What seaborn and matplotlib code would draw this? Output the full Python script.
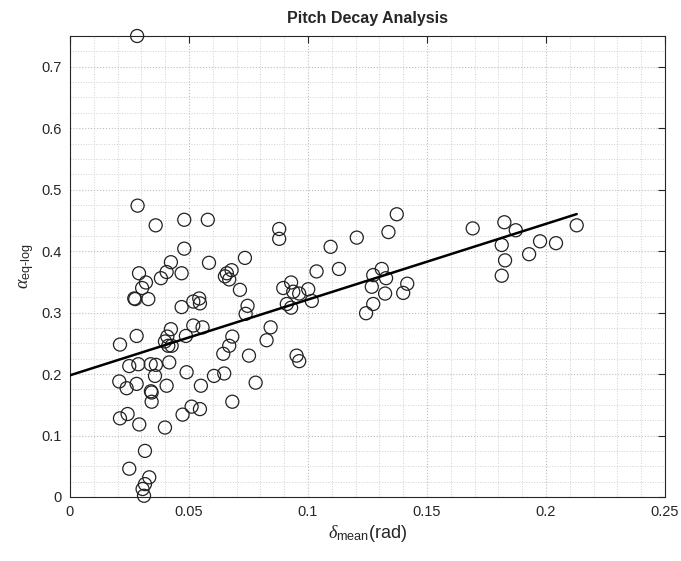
import numpy as np
import pandas as pd
import matplotlib
matplotlib.use("Agg")
import matplotlib.pyplot as plt
import seaborn as sns
from matplotlib.ticker import MultipleLocator

delta_mean = [
    0.0282, 0.0284, 0.0360, 0.0480, 0.0579, 0.0480, 0.0584, 0.0424, 0.0290, 0.0406,
    0.0382, 0.0469, 0.0319, 0.0303, 0.0270, 0.0274, 0.0329, 0.0469, 0.0518, 0.0543,
    0.0546, 0.0659, 0.0679, 0.0669, 0.0651, 0.0735, 0.0714, 0.0746, 0.0738, 0.0280,
    0.0424, 0.0409, 0.0399, 0.0413, 0.0427, 0.0487, 0.0518, 0.0557, 0.0682, 0.0669,
    0.0644, 0.0210, 0.0249, 0.0287, 0.0339, 0.0361, 0.0417, 0.0490, 0.0357, 0.0207,
    0.0238, 0.0280, 0.0340, 0.0343, 0.0343, 0.0406, 0.0550, 0.0605, 0.0648, 0.0752,
    0.0780, 0.0682, 0.0473, 0.0511, 0.0546, 0.0399, 0.0210, 0.0242, 0.0291, 0.0315,
    0.0249, 0.0333, 0.0315, 0.0305, 0.0311, 0.0879, 0.0879, 0.1095, 0.1205, 0.1338,
    0.1373, 0.1036, 0.1130, 0.0896, 0.0929, 0.0938, 0.0963, 0.1001, 0.1016, 0.0911,
    0.0929, 0.0843, 0.0826, 0.0952, 0.0963, 0.1274, 0.1310, 0.1328, 0.1268, 0.1324,
    0.1400, 0.1417, 0.1274, 0.1244, 0.1692, 0.1825, 0.1873, 0.1814, 0.1828, 0.1814,
    0.1929, 0.1975, 0.2042, 0.2129,
]
alpha_eq_log = [
    0.750, 0.474, 0.442, 0.451, 0.451, 0.404, 0.381, 0.382, 0.364, 0.366,
    0.356, 0.364, 0.349, 0.340, 0.323, 0.322, 0.322, 0.309, 0.318, 0.323,
    0.315, 0.364, 0.369, 0.354, 0.359, 0.389, 0.337, 0.311, 0.298, 0.262,
    0.273, 0.261, 0.253, 0.246, 0.246, 0.262, 0.279, 0.276, 0.261, 0.246,
    0.233, 0.248, 0.213, 0.216, 0.216, 0.215, 0.219, 0.203, 0.197, 0.188,
    0.177, 0.184, 0.172, 0.170, 0.155, 0.181, 0.181, 0.197, 0.201, 0.230,
    0.186, 0.155, 0.134, 0.147, 0.143, 0.113, 0.128, 0.135, 0.118, 0.075,
    0.046, 0.032, 0.021, 0.013, 0.002, 0.436, 0.420, 0.407, 0.422, 0.431,
    0.460, 0.367, 0.371, 0.340, 0.349, 0.334, 0.331, 0.338, 0.319, 0.314,
    0.308, 0.276, 0.255, 0.230, 0.221, 0.361, 0.371, 0.356, 0.342, 0.331,
    0.332, 0.347, 0.314, 0.299, 0.437, 0.447, 0.434, 0.410, 0.385, 0.360,
    0.395, 0.416, 0.413, 0.442,
]
fit_intercept = 0.198
fit_slope = 1.232

x_ticks = [0, 0.05, 0.1, 0.15, 0.2, 0.25]
x_tick_labels = ["0", "0.05", "0.1", "0.15", "0.2", "0.25"]
y_ticks = [0, 0.1, 0.2, 0.3, 0.4, 0.5, 0.6, 0.7]
y_tick_labels = ["0", "0.1", "0.2", "0.3", "0.4", "0.5", "0.6", "0.7"]

sns.set_style("white")
plt.rcParams["font.family"] = ["Liberation Sans", "DejaVu Sans"]
plt.rcParams["mathtext.fontset"] = "custom"
plt.rcParams["mathtext.rm"] = "Liberation Sans"
plt.rcParams["mathtext.it"] = "Liberation Serif:italic"

df = pd.DataFrame({"x": delta_mean, "y": alpha_eq_log})

fig = plt.figure(figsize=(6.81, 5.61), dpi=100)
ax = fig.add_axes([70 / 681, 1 - 497 / 561, 595 / 681, 461 / 561])

ax.set_xlim(0, 0.25)
ax.set_ylim(0, 0.75)
ax.xaxis.set_minor_locator(MultipleLocator(0.01))
ax.yaxis.set_minor_locator(MultipleLocator(0.025))
ax.grid(which="major", color="#bdbdbd", linestyle=":", linewidth=0.8)
ax.grid(which="minor", color="#d0d0d0", linestyle=":", linewidth=0.7)
ax.set_axisbelow(True)

sns.scatterplot(data=df, x="x", y="y", ax=ax, marker="o", s=88,
                facecolor="none", edgecolor="#222222", linewidth=0.9,
                clip_on=False, zorder=3, legend=False)

xf = np.array([0.0, max(delta_mean)])
sns.lineplot(x=xf, y=fit_intercept + fit_slope * xf, ax=ax, color="black",
             linewidth=1.8, zorder=4)

ax.set_xticks(x_ticks)
ax.set_xticklabels(x_tick_labels)
ax.set_yticks(y_ticks)
ax.set_yticklabels(y_tick_labels)
ax.tick_params(which="major", direction="in", length=5, width=0.8,
               top=True, right=True, labelsize=10.5, colors="#262626",
               pad=6)
ax.tick_params(which="minor", length=0)
for sp in ax.spines.values():
    sp.set_color("#262626")
    sp.set_linewidth(0.8)

ax.set_title("Pitch Decay Analysis", fontsize=11.5, fontweight="bold", pad=9)
ax.set_xlabel(r"$\delta_{\mathrm{mean}}$(rad)", fontsize=13, color="#262626",
              labelpad=3)
ax.set_ylabel(r"$\alpha_{\mathrm{eq\text{-}log}}$", fontsize=13, color="#262626",
              labelpad=4)

fig.savefig("out.png", dpi=100)
